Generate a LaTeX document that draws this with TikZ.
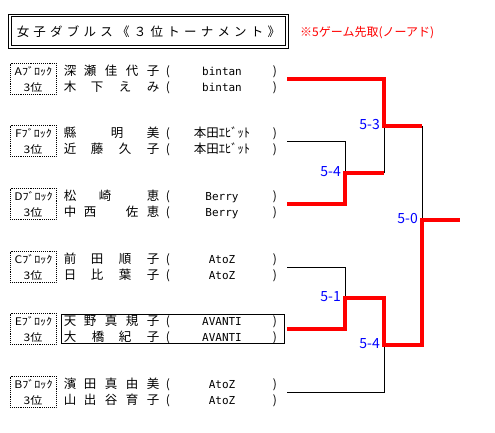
\documentclass[tikz,border=0pt]{standalone}
\usepackage{fontspec}
\setmainfont{Noto Sans CJK JP}
\newfontfamily\jpw[FakeStretch=1.15]{Noto Sans CJK JP}
\newfontfamily\mono{DejaVu Sans Mono}
\usetikzlibrary{calc}
\tikzset{
 nm/.style={inner sep=0pt, anchor=base, font=\fontsize{12.5}{14}\selectfont},
 paren/.style={inner sep=0pt, anchor=base, font=\fontsize{12}{14}\selectfont},
 team/.style={inner sep=0pt, anchor=base, font=\mono\fontsize{11}{13}\selectfont},
 teamjp/.style={inner sep=0pt, anchor=base, font=\fontsize{12.5}{14}\selectfont},
 blk/.style={draw, densely dotted, line width=0.9pt, minimum width=46pt, minimum height=31pt, inner sep=0pt},
 blktxt/.style={inner sep=0pt, anchor=base, font=\jpw\fontsize{10.5}{12}\selectfont},
 score/.style={inner sep=0pt, anchor=east, text=blue, text height=0.73em, text depth=0pt, font=\fontsize{14}{16}\selectfont},
 win/.style={draw=red, line width=3.8pt},
 lose/.style={draw=black, line width=1pt},
 frame/.style={draw, line width=0.9pt, inner sep=0pt},
 note/.style={inner sep=0pt, anchor=base west, text=red, font=\fontsize{12}{14}\selectfont},
}
\newcommand\pname[3]{\foreach \ch/\xx [count=\k] in {#3}{\node[nm] (#1-\k) at (\xx,#2) {\ch};}}
\newcommand\grp[7]{%
 \node[blk] (#1b) at (33,{#2-0.5}) {};
 \node[blktxt] (#1bl) at (33.5,{#2-4}) {#3ﾌﾞﾛｯｸ};
 \node[blktxt] (#1bp) at (33,{#2+12}) {3位};
 \pname{#1u}{#2-3.5}{#5}
 \pname{#1d}{#2+12.5}{#6}
 \node[paren] (#1pu) at (168,{#2-3.5}) {(};
 \node[paren] (#1qu) at (275,{#2-3.5}) {)};
 \node[paren] (#1pd) at (168,{#2+12.5}) {(};
 \node[paren] (#1qd) at (275,{#2+12.5}) {)};
 \node[#7] (#1tu) at (222,{#2-3.5}) {#4};
 \node[#7] (#1td) at (222,{#2+12.5}) {#4};
}
\begin{document}
\begin{tikzpicture}[x=1pt,y=-1pt]
\useasboundingbox (0,0) rectangle (495,432);
% title
\node[frame, minimum width=279.5pt, minimum height=34pt] (title) at (148.25,31.4) {};
\node[frame, minimum width=274.5pt, minimum height=29pt] (titlein) at (148.25,31.4) {};
\foreach \ch [count=\k from 0] in {女,子,ダ,ブ,ル,ス,《,３,位,ト,ー,ナ,メ,ン,ト,》}{\node[nm] (t\k) at ({23+16.73*\k},36.5) {\ch};}
\node[note] (note) at (300,36.5) {※5ゲーム先取(ノーアド)};
% groups
\grp{A}{79}{A}{bintan}{深/70,瀬/90,佳/111,代/132,子/153}{木/70,下/97,え/125,み/153}{team}
\grp{F}{141}{F}{本田ｴﾋﾞｯﾄ}{縣/70,明/117,美/153}{近/70,藤/97,久/125,子/153}{teamjp}
\grp{D}{204}{D}{Berry}{松/70,崎/105,恵/153}{中/70,西/90,佐/132,恵/153}{team}
\grp{C}{267}{C}{AtoZ}{前/70,田/97,順/125,子/153}{日/70,比/97,葉/125,子/153}{team}
\grp{E}{329}{E}{AVANTI}{天/70,野/90,真/111,規/132,子/153}{大/70,橋/98,紀/125,子/153}{team}
\grp{B}{392}{B}{AtoZ}{濱/70,田/90,真/111,由/132,美/153}{山/70,出/90,谷/111,育/132,子/153}{team}
\node[frame, line width=1pt, minimum width=223pt, minimum height=29pt] (Ebox) at (172.5,328.5) {};
% bracket coordinates
\coordinate (A0) at (287,79);  \coordinate (A1) at (384,79);
\coordinate (S1) at (384,126); \coordinate (S1e) at (422,126);
\coordinate (F0) at (287,141); \coordinate (F1) at (345,141);
\coordinate (Q1) at (345,173); \coordinate (Q1e) at (384,173);
\coordinate (D0) at (287,204); \coordinate (D1) at (345,204);
\coordinate (C0) at (287,267); \coordinate (C1) at (345,267);
\coordinate (Q2) at (345,298); \coordinate (Q2e) at (384,298);
\coordinate (E0) at (287,329); \coordinate (E1) at (345,329);
\coordinate (S2) at (384,345); \coordinate (S2e) at (422,345);
\coordinate (B0) at (287,392); \coordinate (B1) at (384,392);
\coordinate (Fin) at (422,220); \coordinate (Fine) at (460,220);
% losing lines
\draw[lose] (F0) -- (F1) -- (Q1);
\draw[lose] (Q1e) -- (S1);
\draw[lose] (C0) -- (C1) -- (Q2);
\draw[lose] (B0) -- (B1) -- (S2);
\draw[lose] (S1e) -- (Fin);
% winning lines
\draw[win] (A0) -- (A1) -- (S1) -- (S1e);
\draw[win] (D0) -- (D1) -- (Q1) -- (Q1e);
\draw[win] (E0) -- (E1) -- (Q2) -- (Q2e) -- (S2) -- (S2e) -- (Fin) -- (Fine);
% scores
\node[score] (s1) at (341,173) {5-4};
\node[score] (s2) at (380,126) {5-3};
\node[score] (s3) at (341,298) {5-1};
\node[score] (s4) at (380,345) {5-4};
\node[score] (s5) at (418,220) {5-0};
\end{tikzpicture}
\end{document}
